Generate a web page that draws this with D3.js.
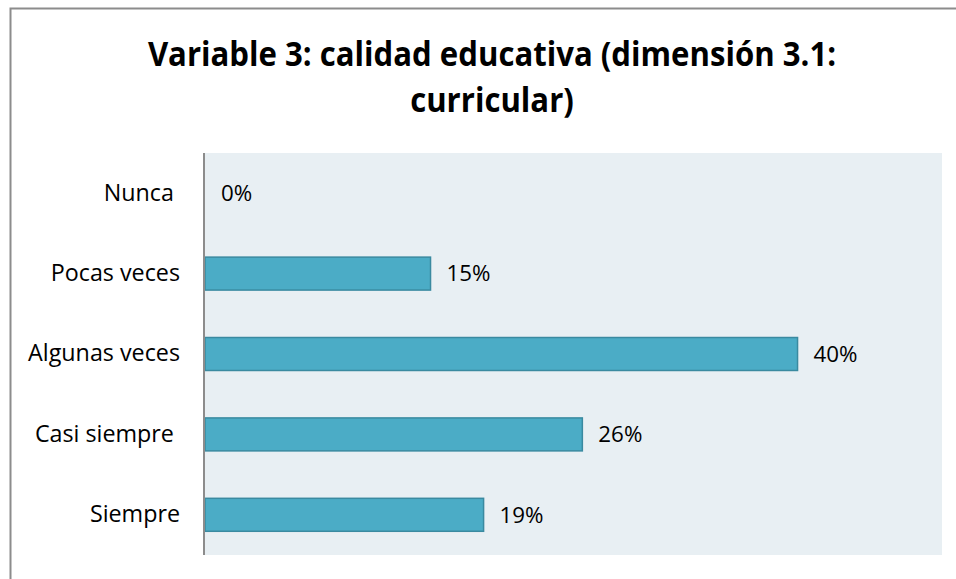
<!DOCTYPE html>
<html>
<head>
<meta charset="utf-8">
<title>Variable 3</title>
<script src="https://d3js.org/d3.v7.min.js"></script>
<style>
  body { margin: 0; background: white; font-family: "Open Sans", "Noto Sans", sans-serif; }
  text { white-space: pre; }
</style>
</head>
<body>
<div id="chart"></div>
<script>
// datos de la gráfica
const categorias = ["Nunca ", "Pocas veces", "Algunas veces", "Casi siempre ", "Siempre"];
const valores = [0, 15.3, 40.2, 25.6, 18.9];
const etiquetas = ["0%", "15%", "40%", "26%", "19%"];
const titulo = ["Variable 3: calidad educativa (dimensión 3.1:", "curricular)"];

const width = 956, height = 579;
const svg = d3.select("#chart").append("svg")
  .attr("width", width).attr("height", height);

// marco del gráfico
svg.append("rect")
  .attr("x", 10.5).attr("y", 8.5)
  .attr("width", 980).attr("height", 600)
  .attr("fill", "white").attr("stroke", "#8c8c8c").attr("stroke-width", 2);

const plot = { left: 205, right: 942, top: 153, bottom: 555 };

const x = d3.scaleLinear().domain([0, 50]).range([plot.left, plot.right]);
const y = d3.scaleBand().domain(categorias)
  .range([plot.top, plot.bottom]).paddingInner(0.59).paddingOuter(0.295);

svg.append("rect")
  .attr("x", plot.left).attr("y", plot.top)
  .attr("width", plot.right - plot.left).attr("height", plot.bottom - plot.top)
  .attr("fill", "#e8eff3");

// título (un poco estirado en vertical, como la Calibri original)
const t = svg.append("g").attr("font-weight", 700).attr("fill", "#000");
t.selectAll("text").data(titulo).join("text")
  .attr("x", 492).attr("y", 0)
  .attr("transform", (d, i) => `translate(0,${66 + i * 46}) scale(1,1.1)`)
  .attr("text-anchor", "middle")
  .attr("font-size", 30)
  .text(d => d);
// ajustar tamaño para que la primera línea mida ~688px
const w0 = t.select("text").node().getComputedTextLength();
t.selectAll("text").attr("font-size", 30 * 688 / w0);

// barras
svg.append("g").selectAll("rect").data(valores).join("rect")
  .attr("x", x(0))
  .attr("y", (d, i) => y(categorias[i]))
  .attr("width", d => x(d) - x(0))
  .attr("height", y.bandwidth())
  .attr("fill", "#4bacc6")
  .attr("stroke", "#3a8aa0")
  .attr("stroke-width", 1.5);

// eje vertical
const axis = svg.append("g")
  .attr("transform", `translate(${plot.left - 1},0)`)
  .call(d3.axisLeft(y).tickSize(0).tickPadding(24));
axis.select(".domain").attr("stroke", "#8c8c8c").attr("stroke-width", 2)
  .attr("d", `M0,${plot.top}V${plot.bottom}`);
axis.selectAll("text")
  .attr("font-family", "'Open Sans', sans-serif")
  .attr("fill", "#000")
  .attr("font-size", 19);
const wl = axis.selectAll("text").nodes()[2].getComputedTextLength();
axis.selectAll("text").attr("font-size", 19 * 152 / wl);

// etiquetas de valores
const lab = svg.append("g").selectAll("text").data(valores).join("text")
  .attr("x", d => x(d) + 16)
  .attr("y", (d, i) => y(categorias[i]) + y.bandwidth() / 2)
  .attr("dy", "0.35em")
  .attr("fill", "#000")
  .attr("font-size", 19)
  .text((d, i) => etiquetas[i]);
const wv = lab.nodes()[1].getComputedTextLength();
lab.attr("font-size", 19 * 44 / wv);
</script>
</body>
</html>
